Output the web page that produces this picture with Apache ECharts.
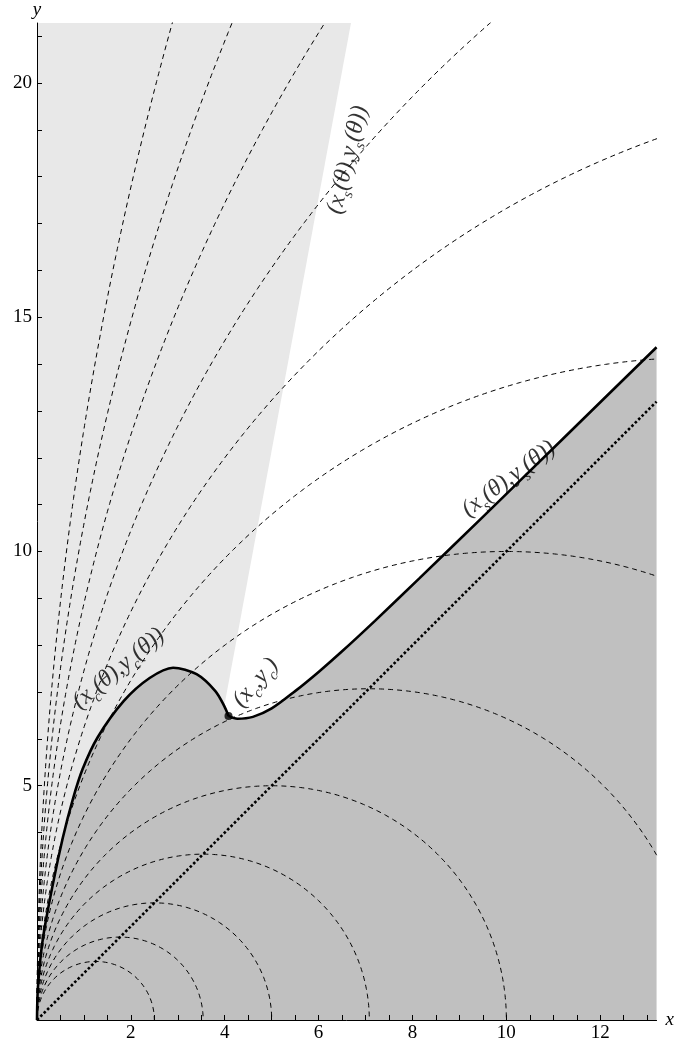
<!DOCTYPE html>
<html>
<head>
<meta charset="utf-8">
<script src="https://cdn.jsdelivr.net/npm/echarts@6/dist/echarts.min.js"></script>
<style>
html, body { margin: 0; padding: 0; background: #fff; }
#chart { width: 677px; height: 1048px; }
</style>
</head>
<body>
<div id="chart"></div>
<script>
// dashed circles: centred on the x axis, each one passes through the origin
var circleRadii = [1.25, 1.77, 2.5, 3.54, 5, 7.07, 10, 14.14, 20, 28.28, 40, 56.57, 80];
// thick curve up to the cusp  (x_c(θ), y_c(θ))
var causticPts = [[0, 0], [0.02, 0.7], [0.12, 1.7], [0.34, 2.91], [0.55, 3.89], [0.76, 4.7], [0.97, 5.35],
  [1.29, 6.03], [1.85, 6.81], [2.4, 7.3], [2.9, 7.52], [3.4, 7.38], [3.8, 7.02], [3.99, 6.7], [4.08, 6.49]];
// thick curve after the cusp  (x_s(θ), y_s(θ))
var shadowPts = [[4.08, 6.49], [4.27, 6.43], [4.6, 6.47], [5.0, 6.65], [5.5, 7.02], [6.0, 7.43], [6.5, 7.87],
  [7.2, 8.52], [8.14, 9.42], [9.5, 10.74], [11.19, 12.39], [13.2, 14.36]];
var cuspPt = [4.08, 6.49];
var diagPts = [[0, 0], [13.2, 13.2]];
var wedgePts = [[0, 21.28], [6.69, 21.28], [3.99, 6.7], [0, 0]];

var xTicks = [0.5, 1, 1.5, 2, 2.5, 3, 3.5, 4, 4.5, 5, 5.5, 6, 6.5, 7, 7.5, 8, 8.5, 9, 9.5, 10, 10.5, 11, 11.5, 12, 12.5, 13];
var yTicks = [1, 2, 3, 4, 5, 6, 7, 8, 9, 10, 11, 12, 13, 14, 15, 16, 17, 18, 19, 20, 21];
var xLabels = [2, 4, 6, 8, 10, 12];
var yLabels = [5, 10, 15, 20];

// curve annotations: subscript, anchor, angle
var notes = [
  { sub: 's', at: [6.62, 18.36], angle: 76 },
  { sub: 's', at: [10.05, 11.55], angle: 37 },
  { sub: 'c', at: [1.74, 7.5], angle: 40 }
];
var cuspNote = { at: [4.66, 7.2], angle: 49 };

var FONT = 'Liberation Serif';

var chart = echarts.init(document.getElementById('chart'));

function circlePoints(r) {
  var pts = [];
  var n = 1440;
  for (var i = 0; i <= n; i++) {
    var t = Math.PI * i / n;
    pts.push([r * (1 - Math.cos(t)), r * Math.sin(t)]);
  }
  return pts;
}

var SMOOTH = 0.3;
var series = [];

series.push({
  type: 'custom',
  z: 1,
  silent: true,
  data: [[0, 0]],
  renderItem: function (params, api) {
    var pts = wedgePts.map(function (p) { return api.coord(p); });
    return { type: 'polygon', shape: { points: pts }, style: { fill: '#e8e8e8' } };
  }
});

// shaded region under the thick curve (first branch runs a little past the cusp to hide the seam)
[causticPts.concat([[4.2, 6.44]]), shadowPts].forEach(function (pts) {
  series.push({
    type: 'line',
    z: 2,
    data: pts,
    smooth: SMOOTH,
    showSymbol: false,
    lineStyle: { width: 0 },
    areaStyle: { color: '#c0c0c0', opacity: 1 }
  });
});

circleRadii.forEach(function (r) {
  series.push({
    type: 'line',
    z: 3,
    data: circlePoints(r),
    showSymbol: false,
    lineStyle: { color: '#000', width: 1, type: [5, 4] }
  });
});

series.push({
  type: 'line',
  z: 3,
  data: diagPts,
  showSymbol: false,
  lineStyle: { color: '#000', width: 2.6, type: [2.6, 2.2] }
});

[causticPts, shadowPts].forEach(function (pts) {
  series.push({
    type: 'line',
    z: 4,
    data: pts,
    smooth: SMOOTH,
    showSymbol: false,
    lineStyle: { color: '#000', width: 2.6 }
  });
});

series.push({
  type: 'scatter',
  z: 5,
  data: [cuspPt],
  symbolSize: 8,
  itemStyle: { color: '#000' }
});

var richSub = {
  s: { fontFamily: FONT, fontStyle: 'italic', fontSize: 15, color: '#000', verticalAlign: 'bottom', lineHeight: 33 }
};
var noteData = notes.map(function (n) {
  return {
    value: n.at,
    label: {
      rotate: n.angle,
      formatter: '(x{s|' + n.sub + '}(θ),y{s|' + n.sub + '}(θ))'
    }
  };
});
noteData.push({
  value: cuspNote.at,
  label: { rotate: cuspNote.angle, formatter: '(x{s|c},y{s|c})' }
});
series.push({
  type: 'scatter',
  z: 6,
  silent: true,
  data: noteData,
  symbolSize: 1,
  itemStyle: { color: 'rgba(0,0,0,0)' },
  label: {
    show: true,
    position: 'inside',
    fontFamily: FONT,
    fontStyle: 'italic',
    fontSize: 24,
    lineHeight: 25,
    color: '#000',
    rich: richSub
  }
});

var axisCommon = {
  type: 'value',
  z: 10,
  splitLine: { show: false },
  axisLine: { show: true, onZero: false, lineStyle: { color: '#000', width: 1 } },
  axisTick: { show: true, inside: true, length: 5, lineStyle: { color: '#000', width: 1 } },
  nameTextStyle: { fontFamily: FONT, fontStyle: 'italic', fontSize: 19, color: '#000' }
};

chart.setOption({
  backgroundColor: '#fff',
  animation: false,
  grid: { left: 37, top: 20, right: 19, bottom: 28 },
  xAxis: Object.assign({}, axisCommon, {
    min: 0,
    max: 13.2,
    name: 'x',
    nameLocation: 'end',
    nameGap: 9,
    axisTick: Object.assign({}, axisCommon.axisTick, { customValues: xTicks }),
    axisLabel: { customValues: xLabels, fontFamily: FONT, fontSize: 19, color: '#000', margin: 4 }
  }),
  yAxis: Object.assign({}, axisCommon, {
    min: 0,
    max: 21.28,
    name: 'y',
    nameLocation: 'end',
    nameGap: 4,
    axisTick: Object.assign({}, axisCommon.axisTick, { customValues: yTicks }),
    axisLabel: { customValues: yLabels, fontFamily: FONT, fontSize: 19, color: '#000', margin: 5 }
  }),
  series: series
});
</script>
</body>
</html>
